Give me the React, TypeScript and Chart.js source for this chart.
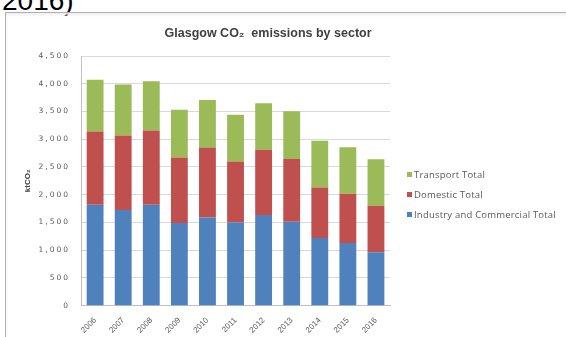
import React, { useEffect, useRef } from "react";
import { Chart, registerables } from "chart.js";

Chart.register(...registerables);

const categories = ["2006", "2007", "2008", "2009", "2010", "2011", "2012", "2013", "2014", "2015", "2016"];
const industry = [1820, 1725, 1820, 1490, 1590, 1500, 1635, 1510, 1220, 1130, 960];
const domestic = [1320, 1340, 1335, 1180, 1260, 1100, 1175, 1135, 910, 885, 840];
const transport = [930, 920, 890, 860, 855, 840, 840, 860, 840, 840, 840];
const yTicks = [0, 500, 1000, 1500, 2000, 2500, 3000, 3500, 4000, 4500];

const seriesLabels = ["Industry and Commercial Total", "Domestic Total", "Transport Total"];
const seriesColors = ["#4f81bd", "#c0504d", "#9bbb59"];
const seriesData = [industry, domestic, transport];

const titleText = "Glasgow CO\u2082  emissions by sector";
const yTitle = "ktCO\u2082";

const titlePlugin = {
  id: "customTitle",
  beforeDraw(chart: any) {
    const y = chart.scales && chart.scales.y;
    if (y && !y.__wrapped) {
      const orig = y.drawLabels.bind(y);
      y.drawLabels = (area: any) => {
        const ctx = chart.ctx;
        ctx.save();
        ctx.letterSpacing = "2px";
        orig(area);
        ctx.restore();
      };
      y.__wrapped = true;
    }
  },
  afterDraw(chart: any) {
    const ctx = chart.ctx;
    ctx.save();
    ctx.font = "bold 12.5px 'Liberation Sans', Arial, sans-serif";
    ctx.fillStyle = "#404040";
    ctx.textAlign = "center";
    ctx.textBaseline = "middle";
    ctx.fillText(titleText, chart.width * 0.467, 20);
    ctx.restore();
  },
};

export default function App() {
  const ref = useRef<HTMLCanvasElement | null>(null);
  useEffect(() => {
    if (!ref.current) return;
    const chart = new Chart(ref.current, {
      type: "bar",
      data: {
        labels: categories,
        datasets: seriesData.map((d, i) => ({
          label: seriesLabels[i],
          data: d,
          backgroundColor: seriesColors[i],
        })),
      },
      options: {
        animation: false,
        responsive: true,
        maintainAspectRatio: false,
        datasets: { bar: { barPercentage: 0.6, categoryPercentage: 1 } },
        layout: { padding: { top: 42, left: 16, right: 176, bottom: 0 } },
        plugins: {
          title: { display: false },
          tooltip: { enabled: false },
          legend: { display: false },
        },
        scales: {
          x: {
            stacked: true,
            grid: { display: false },
            border: { color: "#bfbfbf" },
            ticks: {
              color: "#595959",
              font: { size: 8, family: "'Liberation Sans', sans-serif" },
              maxRotation: 45,
              minRotation: 45,
              padding: 2,
            },
          },
          y: {
            stacked: true,
            min: 0,
            max: 4500,
            afterBuildTicks: (axis: any) => {
              axis.ticks = yTicks.map((v) => ({ value: v }));
            },
            grid: { color: "#d9d9d9", drawTicks: false },
            border: { color: "#bfbfbf" },
            ticks: {
              color: "#595959",
              font: { size: 7.5, family: "'DejaVu Sans', sans-serif" },
              padding: 11,
              callback: (v: any) => Number(v).toLocaleString("en-US"),
            },
            title: {
              display: true,
              text: yTitle,
              color: "#404040",
              font: { size: 8, weight: "bold", family: "'Liberation Sans', sans-serif" },
              padding: { top: 0, bottom: 5 },
            },
          },
        },
      },
      plugins: [titlePlugin],
    });
    return () => chart.destroy();
  }, []);

  const legendOrder = [2, 1, 0];

  return (
    <div style={{ position: "absolute", left: 0, top: 0, width: 566, height: 337, overflow: "hidden", background: "#fff" }}>
      <div
        style={{
          position: "absolute",
          left: 2,
          top: -14,
          fontFamily: "'Liberation Sans', Arial, sans-serif",
          fontSize: 28,
          lineHeight: "30px",
          color: "#000",
        }}
      >
        2016)
      </div>
      <div
        style={{
          position: "absolute",
          left: 5,
          top: 12,
          width: 580,
          height: 340,
          border: "1px solid #b0b0b0",
          boxShadow: "inset 0 2px 3px #eee",
        }}
      />
      <div style={{ position: "absolute", left: 7, top: 14, width: 559, height: 323 }}>
        <canvas ref={ref} />
      </div>
      <div style={{ position: "absolute", left: 407, top: 164 }}>
        {legendOrder.map((i) => (
          <div
            key={i}
            style={{
              display: "flex",
              alignItems: "center",
              height: 20,
              fontFamily: "'Open Sans', sans-serif",
              fontSize: 9.5,
              letterSpacing: 0.2,
              color: "#595959",
              whiteSpace: "nowrap",
            }}
          >
            <span style={{ display: "inline-block", width: 5, height: 5, background: seriesColors[i], marginRight: 2 }} />
            <span>{seriesLabels[i]}</span>
          </div>
        ))}
      </div>
    </div>
  );
}
